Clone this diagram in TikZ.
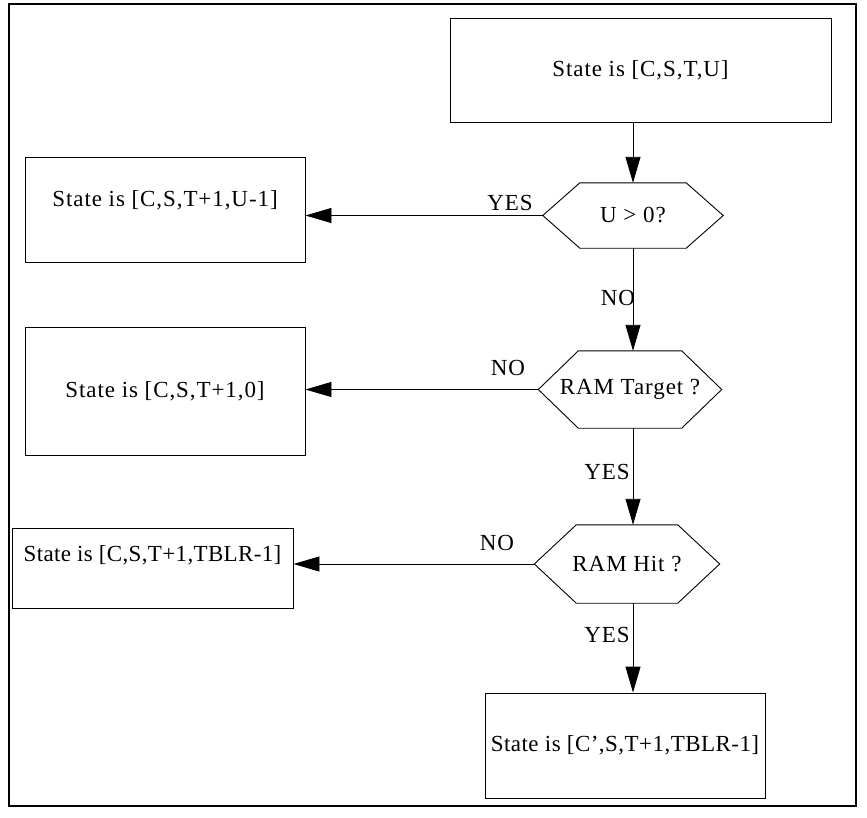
\documentclass[tikz,border=0pt]{standalone}
\usepackage{fontspec}
\setmainfont[LetterSpace=4]{Liberation Serif}
\usetikzlibrary{arrows.meta}
\tikzset{
  boxnode/.style={draw, line width=0.9pt, inner sep=0pt, align=center},
  hexnode/.style={inner sep=0pt},
  lbl/.style={inner sep=0pt},
  conn/.style={line width=0.9pt, -{Triangle[length=26pt,width=15pt]}},
}
\newcommand{\hexdraw}[2]{%
  \draw[line width=0.9pt] (#1.west) -- ([xshift=#2]#1.north west) -- ([xshift=-#2]#1.north east) -- (#1.east)
    -- ([xshift=-#2]#1.south east) -- ([xshift=#2]#1.south west) -- cycle;}
\newcommand{\liftup}[2]{\raisebox{#1}[\heightof{S}][0.25em]{#2}}
\usepackage{calc}
\begin{document}
\begin{tikzpicture}[x=1pt,y=-1pt,font=\fontsize{23}{27}\selectfont]
\useasboundingbox (0,0) rectangle (867,817);
\draw[line width=1.6pt] (9,4) rectangle (856,806);

\node[boxnode, minimum width=381pt, minimum height=104pt] (top) at (640.5,70) {State is [C,S,T,U]};
\node[boxnode, minimum width=280pt, minimum height=105pt] (b1) at (165,209.5) {\liftup{8pt}{State is [C,S,T+1,U-1]}};
\node[boxnode, minimum width=280pt, minimum height=128pt] (b2) at (165,391) {State is [C,S,T+1,0]};
\node[boxnode, minimum width=281pt, minimum height=80pt] (b3) at (152.5,568) {\liftup{11pt}{\addfontfeature{LetterSpace=1.5}State is [C,S,T+1,TBLR-1]}};
\node[boxnode, minimum width=280pt, minimum height=105pt] (b4) at (625,745.5) {\addfontfeature{LetterSpace=2}State is [C',S,T+1,TBLR-1]};

\node[hexnode, minimum width=180pt, minimum height=65pt] (h1) at (633,215.5) {U > 0?};
\node[hexnode, minimum width=183pt, minimum height=77pt] (h2) at (630,389.5) {RAM Target ?};
\node[hexnode, minimum width=185pt, minimum height=78pt] (h3) at (627,564) {RAM Hit ?};
\hexdraw{h1}{37pt}
\hexdraw{h2}{40pt}
\hexdraw{h3}{42pt}

\draw[conn] (top.south -| h1.north) -- (h1.north);
\draw[conn] (h1.south) -- (h1.south |- h2.north);
\draw[conn] (h2.south -| h1.south) -- (h3.north -| h1.south);
\draw[conn] (h3.south -| h1.south) -- (b4.north -| h1.south);
\draw[conn] (h1.west) -- (h1.west -| b1.east);
\draw[conn] (h2.west) -- (h2.west -| b2.east);
\draw[conn] (h3.west) -- (h3.west -| b3.east);

\node[lbl] (l1) at (510,203) {YES};
\node[lbl] (l2) at (618,298) {NO};
\node[lbl] (l3) at (508,368) {NO};
\node[lbl] (l4) at (607,472) {YES};
\node[lbl] (l5) at (497,543) {NO};
\node[lbl] (l6) at (607,635) {YES};
\end{tikzpicture}
\end{document}
